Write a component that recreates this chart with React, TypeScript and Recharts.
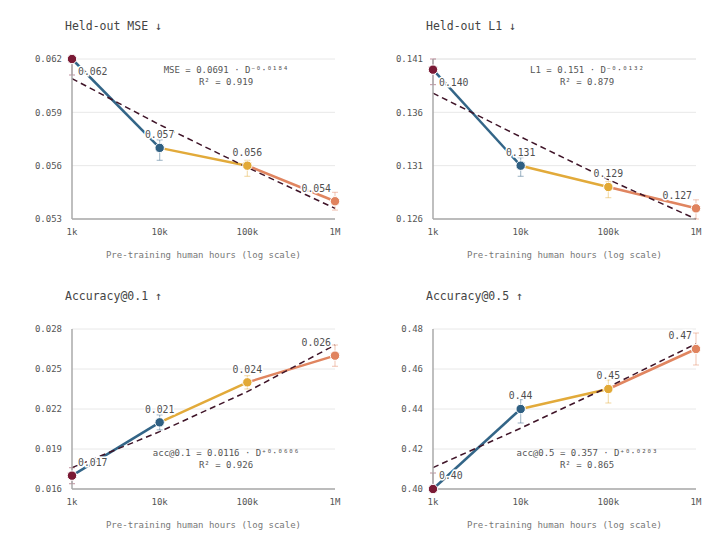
import React from 'react';
import {
  ComposedChart, Line, Scatter, ErrorBar, XAxis, YAxis, CartesianGrid, Label,
} from 'recharts';

// pre-training hours (x) and their tick labels
const HOURS = [1000, 10000, 100000, 1000000];
const HOUR_LABELS = ['1k', '10k', '100k', '1M'];

// Held-out MSE
const MSE_VALUES = [0.062, 0.057, 0.056, 0.054];
const MSE_ERR_LO = [0.0009, 0.0007, 0.0006, 0.0005];
const MSE_ERR_HI = [0, 0.00045, 0.0003, 0.0005];
const MSE_FIT = [0.0609, 0.0583, 0.0559, 0.0536];
const MSE_TICKS = [0.053, 0.056, 0.059, 0.062];

// Held-out L1
const L1_VALUES = [0.14, 0.131, 0.129, 0.127];
const L1_ERR_LO = [0.0014, 0.001, 0.001, 0.001];
const L1_ERR_HI = [0.001, 0.00075, 0.0005, 0.0008];
const L1_FIT = [0.1378, 0.1337, 0.1297, 0.126];
const L1_TICKS = [0.126, 0.131, 0.136, 0.141];

// Accuracy@0.1
const ACC1_VALUES = [0.017, 0.021, 0.024, 0.026];
const ACC1_ERR_LO = [0.0006, 0.00056, 0.0005, 0.0008];
const ACC1_ERR_HI = [0.0006, 0.00056, 0.0005, 0.0008];
const ACC1_FIT = [0.0176, 0.0203, 0.0233, 0.0268];
const ACC1_TICKS = [0.016, 0.019, 0.022, 0.025, 0.028];

// Accuracy@0.5
const ACC5_VALUES = [0.4, 0.44, 0.45, 0.47];
const ACC5_ERR_LO = [0, 0.007, 0.007, 0.008];
const ACC5_ERR_HI = [0.008, 0.0047, 0.0045, 0.008];
const ACC5_FIT = [0.4107, 0.4304, 0.451, 0.4726];
const ACC5_TICKS = [0.4, 0.42, 0.44, 0.46, 0.48];

const POINT_COLORS = ['#7a1a35', '#2f5f82', '#e2a935', '#e0835e'];
const SEGMENT_COLORS = ['#336587', '#e2aa3a', '#e08560'];
const FIT_COLOR = '#3f1428';
const FONT = '"DejaVu Sans Mono", monospace';

interface PanelProps {
  title: string;
  values: number[];
  errLo: number[];
  errHi: number[];
  fit: number[];
  ticks: number[];
  digits: number;
  formula: string;
  r2: string;
  firstBelow: boolean;
  left: number;
  top: number;
}

const renderPoint = (color: string, text: string, idx: number, firstBelow: boolean) =>
  (p: any) => {
    const { cx, cy } = p;
    let dx = 0;
    let dy = -13;
    let anchor: 'start' | 'middle' | 'end' = 'middle';
    if (idx === 0) { dx = 6; dy = firstBelow ? 13 : -13; anchor = 'start'; }
    if (idx === HOURS.length - 1) { dx = -4; anchor = 'end'; }
    return (
      <g>
        <circle cx={cx} cy={cy} r={4.7} fill={color} stroke="#fff" strokeWidth={1} />
        <text
          x={cx + dx} y={cy + dy} dy="0.35em" textAnchor={anchor}
          fontSize={9.8} fill="#505050" stroke="#fff" strokeWidth={3}
          paintOrder="stroke" style={{ fontFamily: FONT }}
        >
          {text}
        </text>
      </g>
    );
  };

function Panel(props: PanelProps) {
  const { values, errLo, errHi, fit, ticks, digits } = props;
  const points = HOURS.map((h, i) => ({ h, v: values[i], err: [errLo[i], errHi[i]] }));
  const fitData = HOURS.map((h, i) => ({ h, v: fit[i] }));

  return (
    <div style={{ position: 'absolute', left: props.left, top: props.top, width: 360, height: 272 }}>
      <div style={{ position: 'absolute', left: 65, top: 19, fontSize: 11.5, color: '#444' }}>
        {props.title}
      </div>
      <ComposedChart width={360} height={272} margin={{ top: 59, right: 25, left: 0, bottom: 0 }}>
        <CartesianGrid vertical={false} stroke="#e8e8e8" />
        <XAxis
          dataKey="h" type="number" scale="log" domain={[1000, 1000000]}
          ticks={HOURS} tickFormatter={(v: number) => HOUR_LABELS[HOURS.indexOf(v)] ?? ''}
          tickLine={false} tickMargin={4} height={53}
          axisLine={{ stroke: '#aaa', strokeWidth: 1.5 }}
          tick={{ fontSize: 9, fill: '#555' }}
        >
          <Label
            value="Pre-training human hours (log scale)" position="insideBottom"
            offset={14} fontSize={9} fill="#777"
          />
        </XAxis>
        <YAxis
          dataKey="v" type="number" domain={[ticks[0], ticks[ticks.length - 1]]}
          ticks={ticks} tickFormatter={(v: number) => v.toFixed(digits)}
          tickLine={false} tickMargin={4} width={72}
          axisLine={{ stroke: '#aaa', strokeWidth: 1.5 }}
          tick={{ fontSize: 9, fill: '#555' }}
        />
        {SEGMENT_COLORS.map((c, i) => (
          <Line
            key={`seg${i}`} data={points.slice(i, i + 2)} dataKey="v" type="linear"
            stroke={c} strokeWidth={2.5} dot={false} activeDot={false}
            isAnimationActive={false}
          />
        ))}
        <Line
          data={fitData} dataKey="v" type="linear" stroke={FIT_COLOR} strokeWidth={1.5}
          strokeDasharray="6 4" dot={false} activeDot={false} isAnimationActive={false}
        />
        {points.map((pt, i) => (
          <Scatter
            key={`pt${i}`} data={[pt]} dataKey="v" isAnimationActive={false}
            shape={renderPoint(POINT_COLORS[i], pt.v.toFixed(digits), i, props.firstBelow)}
          >
            <ErrorBar
              dataKey="err" direction="y" width={3} stroke={POINT_COLORS[i]}
              strokeOpacity={0.4} strokeWidth={1.2}
            />
          </Scatter>
        ))}
      </ComposedChart>
      <div
        style={{
          position: 'absolute', left: 105, width: 242, top: props.firstBelow ? 65 : 178,
          textAlign: 'center', fontSize: 9, lineHeight: '11.5px', color: '#555',
        }}
      >
        <div>{props.formula}</div>
        <div>{props.r2}</div>
      </div>
    </div>
  );
}

export default function App() {
  return (
    <div
      style={{
        position: 'absolute', left: 0, top: 0, width: 720, height: 545,
        background: '#fff', fontFamily: FONT,
      }}
    >
      <Panel
        title="Held-out MSE ↓" values={MSE_VALUES} errLo={MSE_ERR_LO} errHi={MSE_ERR_HI}
        fit={MSE_FIT} ticks={MSE_TICKS} digits={3}
        formula="MSE = 0.0691 · D⁻⁰·⁰¹⁸⁴" r2="R² = 0.919" firstBelow left={0} top={0}
      />
      <Panel
        title="Held-out L1 ↓" values={L1_VALUES} errLo={L1_ERR_LO} errHi={L1_ERR_HI}
        fit={L1_FIT} ticks={L1_TICKS} digits={3}
        formula="L1 = 0.151 · D⁻⁰·⁰¹³²" r2="R² = 0.879" firstBelow left={361} top={0}
      />
      <Panel
        title="Accuracy@0.1 ↑" values={ACC1_VALUES} errLo={ACC1_ERR_LO} errHi={ACC1_ERR_HI}
        fit={ACC1_FIT} ticks={ACC1_TICKS} digits={3}
        formula="acc@0.1 = 0.0116 · D⁺⁰·⁰⁶⁰⁶" r2="R² = 0.926" firstBelow={false} left={0} top={270}
      />
      <Panel
        title="Accuracy@0.5 ↑" values={ACC5_VALUES} errLo={ACC5_ERR_LO} errHi={ACC5_ERR_HI}
        fit={ACC5_FIT} ticks={ACC5_TICKS} digits={2}
        formula="acc@0.5 = 0.357 · D⁺⁰·⁰²⁰³" r2="R² = 0.865" firstBelow={false} left={361} top={270}
      />
    </div>
  );
}
